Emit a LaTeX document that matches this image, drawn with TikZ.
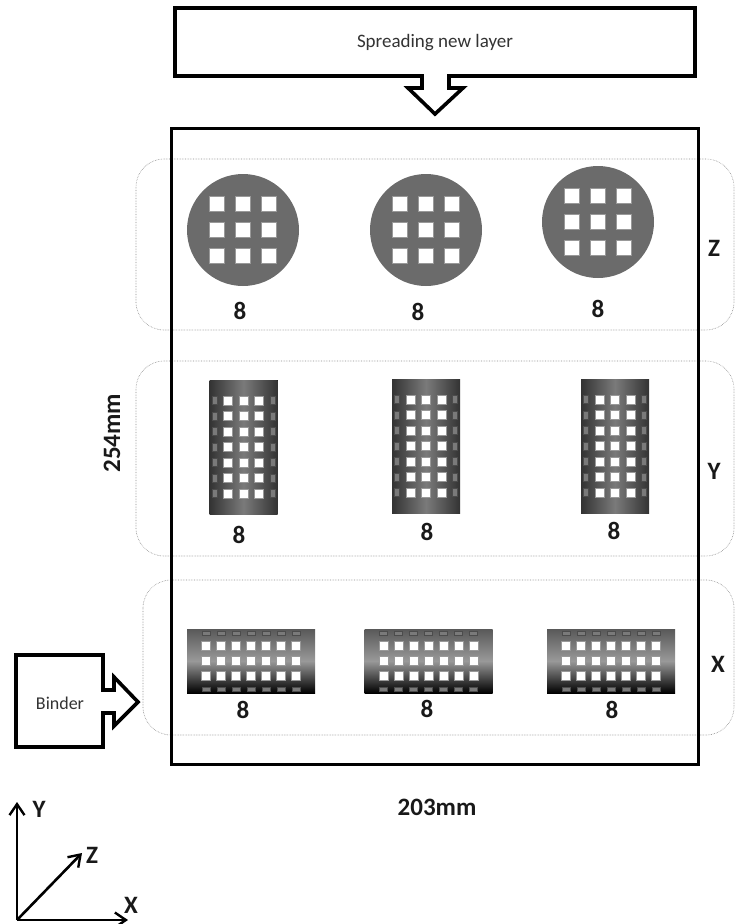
\documentclass[tikz,border=0pt]{standalone}
\usepackage{fontspec}
\setmainfont{Carlito}
\usetikzlibrary{arrows.meta,shadings}

\begin{document}
\begin{tikzpicture}[x=1pt,y=-1pt,>={Straight Barb[length=11pt,width=15pt,line width=2.4pt]},
 outl/.style={draw,line width=3.6pt,line join=miter,fill=white},
 zone/.style={draw=black!45,densely dotted,line width=0.6pt,rounded corners=28pt},
 axs/.style={->,line width=2.6pt},
 num/.style={font=\bfseries\fontsize{25}{28}\selectfont,text=black!90},
 lab/.style={font=\fontsize{19}{22}\selectfont,text=black!80},
 hole/.style={fill=white,draw=black!40,line width=0.4pt},
 slit/.style={fill=black!52,draw=black!70,line width=0.4pt},
 pics/disc/.style={code={
  \fill[black!58] (0,0) circle (56);
  \foreach \i in {-26,0,26} \foreach \j in {-26,0,26}
   \filldraw[hole] (\i-7.5,\j-7.5) rectangle ++(15,15);}},
 pics/upright/.style={code={
  \fill[left color=black!80,right color=black!80,middle color=black!52] (-34,-67) rectangle (34,67);
  \foreach \j in {-46.5,-31,-15.5,0,15.5,31,46.5} {
   \foreach \i in {-15.5,0,15.5} \filldraw[hole] (\i-4.5,\j-4.5) rectangle ++(9,9);
   \foreach \i in {-29,29} \filldraw[slit] (\i-2.5,\j-4) rectangle ++(5,8);}}},
 pics/lying/.style={code={
  \shade[top color=black!65,bottom color=black,middle color=black!40,shading angle=0] (-64,-32) rectangle (64,32);
  \foreach \i in {-45,-30,-15,0,15,30,45} {
   \foreach \j in {-15,0,15} \filldraw[hole] (\i-4.5,\j-4.5) rectangle ++(9,9);
   \foreach \j in {-28,28} \filldraw[slit] (\i-4,\j-2) rectangle ++(8,4);}}}]
\useasboundingbox (0,0) rectangle (734,924);
% zones behind the frame
\draw[zone] (136,159) rectangle (734,330);
\draw[zone] (136,361) rectangle (734,556);
\draw[zone] (143,580) rectangle (734,735);
\draw[line width=3pt] (171,128) rectangle (698,764);
% feeder outlines
\draw[outl] (175,8) -- (695,8) -- (695,76) -- (449,76) -- (449,88) -- (463,88) -- (435,114) -- (408,88) -- (422,88) -- (422,76) -- (175,76) -- cycle;
\draw[outl] (16,655) -- (103,655) -- (103,690) -- (114,690) -- (114,677) -- (138,702) -- (114,726) -- (114,713) -- (103,713) -- (103,747) -- (16,747) -- cycle;
\node[lab] (spread) at (435,43) {Spreading new layer};
\node[lab,font=\fontsize{18}{21}\selectfont] (binder) at (60,703) {Binder};
% parts
\pic at (243,230) {disc};
\pic at (426,230) {disc};
\pic at (598,222) {disc};
\pic at (243.5,447) {upright};
\pic at (426,446) {upright};
\pic at (615,446) {upright};
\pic at (251,661) {lying};
\pic at (428.5,661) {lying};
\pic at (611,661) {lying};
\foreach \x/\y in {240/311,418/312,598/309,239/535,427/532,614/531,243/710,427/709,612/710}
 \node[num] at (\x,\y) {8};
\node[num] (zlab) at (714,248) {Z};
\node[num] (ylab) at (714,471) {Y};
\node[num] (xlab) at (718,664) {X};
\node[num,rotate=90] (height) at (112,433) {254mm};
\node[num] (width) at (437,807) {203mm};
% axes
\coordinate (orig) at (17,920);
\coordinate (ytip) at (17,802);
\coordinate (ztip) at (82,853);
\coordinate (xtip) at (128,920);
\draw[axs] (orig) -- (ytip);
\draw[axs] (orig) -- (ztip);
\draw[axs] (orig) -- (xtip);
\node[num] (ay) at (39,809) {Y};
\node[num] (az) at (92,855) {Z};
\node[num] (ax) at (131,905) {X};
\end{tikzpicture}
\end{document}
